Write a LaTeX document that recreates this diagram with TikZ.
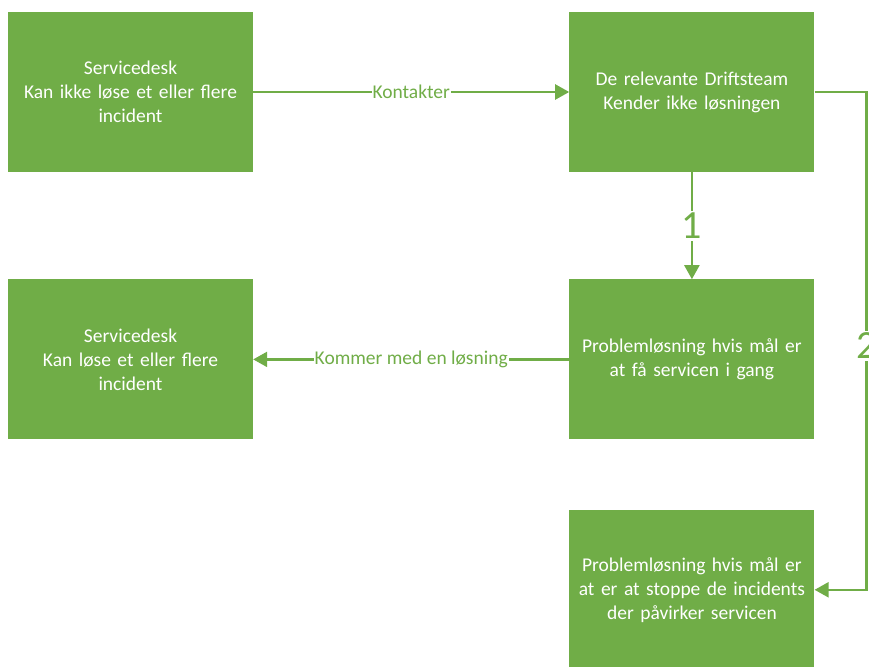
\documentclass[tikz,border=0pt]{standalone}
\usepackage{fontspec}
\setmainfont{Carlito}
\usepackage{tikz}
\usetikzlibrary{arrows.meta, positioning, calc}
\definecolor{offgreen}{RGB}{112,173,71}

\begin{document}
\begin{tikzpicture}[x=1pt, y=-1pt,
  box/.style={rectangle, fill=offgreen, text=white, minimum width=245pt, minimum height=160pt, inner sep=2pt, text width=240pt, align=center, font=\fontsize{19.5}{24}\selectfont},
  arr/.style={draw=offgreen, line width=2.3pt, -{Triangle[length=14pt, width=15pt]}},
  lbl/.style={fill=white, text=offgreen, inner sep=1pt, font=\fontsize{19.5}{24}\selectfont},
  num/.style={fill=white, text=offgreen, inner sep=2pt, font=\fontsize{40}{44}\selectfont}
]
\useasboundingbox (0,0) rectangle (869,666);
\node[box] (desk1) at (130.5,92) {Servicedesk\\Kan ikke løse et eller flere\\incident};
\node[box, right=316pt of desk1] (drift) {De relevante Driftsteam\\Kender ikke løsningen};
\node[box, below=107pt of drift] (restore) {Problemløsning hvis mål er\\at få servicen i gang};
\node[box, below=107pt of desk1] (desk2) {Servicedesk\\Kan løse et eller flere\\incident};
\node[box, below=70pt of restore] (stop) {Problemløsning hvis mål er\\at er at stoppe de incidents\\der påvirker servicen};
% connectors
\draw[arr] (desk1) -- node[lbl]{Kontakter} (drift);
\draw[arr] (restore) -- node[lbl]{Kommer med en løsning} (desk2);
\draw[arr] (drift) -- node[num, pos=0.5]{1} (restore);
\coordinate (turn) at ($(drift.east)+(52,0)$);
\draw[arr] (drift.east) -- (turn) -- node[num, pos=0.51]{2} (turn |- stop.east) -- (stop.east);
\end{tikzpicture}
\end{document}
